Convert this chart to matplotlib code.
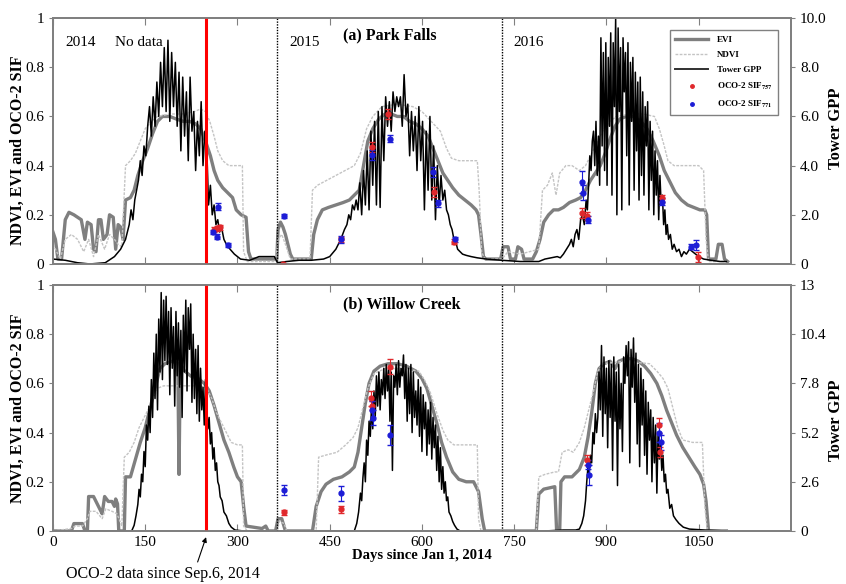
import matplotlib
matplotlib.use("Agg")
import matplotlib.pyplot as plt
from matplotlib.lines import Line2D

plt.rcParams['font.family'] = ['Liberation Serif', 'DejaVu Serif']
plt.rcParams['mathtext.fontset'] = 'stix'

# ---------------- data ----------------
# x axis: days since Jan 1, 2014
x_ticks = [0, 150, 300, 450, 600, 750, 900, 1050]
left_ticks = [0, 0.2, 0.4, 0.6, 0.8, 1]
left_labels = ['0', '0.2', '0.4', '0.6', '0.8', '1']
oco2_start = 249
year_breaks = [365, 730]

# (a) Park Falls
pf_evi_day = [0, 4, 8, 14, 20, 26, 34, 40, 46, 52, 56, 62, 66, 70, 74, 78, 82, 88, 92, 98, 102, 106, 110, 114,
              118, 126, 132, 138, 146, 154, 162, 170, 178, 190, 200, 212, 222, 232, 240, 248, 256, 262, 268, 276,
              284, 292, 298, 306, 314, 318, 322, 360, 364, 366, 370, 374, 378, 382, 386, 390,
              420, 424, 430, 438, 448, 460, 472, 482, 490, 498, 505, 512, 520, 530, 540, 550, 560, 570, 580, 590,
              600, 610, 618, 626, 634, 642, 650, 660, 670, 680, 688, 692, 696, 700, 704, 728, 732, 740, 744, 752,
              756, 762, 766, 780, 786, 792, 798, 806, 814, 822,
              830, 840, 850, 858, 866, 874, 882, 890, 898, 906, 914, 922, 932, 944, 956, 966, 976, 986, 994, 1002,
              1012, 1022, 1032, 1042, 1052, 1060, 1063, 1066, 1078, 1082, 1088, 1092, 1097]
pf_evi = [0.13, 0.10, 0.02, 0.02, 0.18, 0.21, 0.20, 0.19, 0.18, 0.10, 0.17, 0.16, 0.06, 0.05, 0.18, 0.18, 0.10,
          0.12, 0.20, 0.19, 0.06, 0.16, 0.15, 0.10,
          0.26, 0.27, 0.30, 0.36, 0.42, 0.47, 0.53, 0.58, 0.60, 0.60, 0.59, 0.58, 0.58, 0.57, 0.55, 0.50, 0.44,
          0.38, 0.34, 0.31, 0.29, 0.27, 0.22, 0.20, 0.19, 0.05, 0.02, 0.02, 0.02, 0.14, 0.17, 0.15, 0.12, 0.08,
          0.04, 0.02,
          0.02, 0.12, 0.18, 0.22, 0.23, 0.24, 0.25, 0.26, 0.28, 0.30, 0.40, 0.50, 0.55, 0.59, 0.61, 0.61, 0.60,
          0.60, 0.58, 0.57, 0.55, 0.52, 0.47, 0.42, 0.37, 0.34, 0.31, 0.28, 0.26, 0.24, 0.22, 0.20, 0.12, 0.03,
          0.02, 0.02, 0.07, 0.07, 0.02, 0.02, 0.07, 0.06, 0.02, 0.02, 0.05, 0.10, 0.17, 0.20, 0.22, 0.22,
          0.23, 0.25, 0.26, 0.27, 0.30, 0.34, 0.37, 0.40, 0.45, 0.51, 0.56, 0.59, 0.60, 0.60, 0.58, 0.55, 0.50,
          0.44, 0.38, 0.34, 0.29, 0.26, 0.24, 0.23, 0.22, 0.22, 0.20, 0.02, 0.02, 0.08, 0.08, 0.02, 0.01]

pf_ndvi_day = [0, 6, 12, 20, 30, 40, 50, 58, 66, 74, 84, 92, 100, 106, 112, 118, 126, 134, 142, 150, 160, 170,
               190, 210, 230, 240, 248, 255, 262, 268, 276, 286, 300, 308, 310, 316, 362, 366, 372, 378, 386,
               418, 422, 430, 445, 460, 475, 490, 500, 510, 520, 535, 560, 585, 600, 615, 630, 640, 648, 660,
               675, 690, 693, 697, 702, 730, 740, 760, 790, 796, 804, 812, 818, 824, 834,
               844, 856, 866, 876, 886, 896, 906, 916, 940, 960, 978, 986, 994, 1000, 1010, 1030, 1050, 1058,
               1062, 1066, 1095]
pf_ndvi = [0.08, 0.05, 0.02, 0.10, 0.12, 0.10, 0.05, 0.10, 0.03, 0.12, 0.06, 0.12, 0.10, 0.08, 0.07, 0.40,
           0.42, 0.45, 0.50, 0.55, 0.58, 0.60, 0.61, 0.61, 0.62, 0.63, 0.62, 0.58, 0.52, 0.46, 0.42, 0.40, 0.40,
           0.40, 0.05, 0.01, 0.01, 0.10, 0.12, 0.08, 0.02,
           0.02, 0.30, 0.32, 0.34, 0.36, 0.38, 0.40, 0.45, 0.55, 0.60, 0.64, 0.65, 0.64, 0.62, 0.58, 0.54, 0.47,
           0.43, 0.42, 0.42, 0.42, 0.30, 0.05, 0.02, 0.02, 0.05, 0.04, 0.06, 0.30, 0.32, 0.37, 0.28, 0.37, 0.40,
           0.40, 0.38, 0.40, 0.45, 0.50, 0.55, 0.58, 0.60, 0.61, 0.61, 0.60, 0.55, 0.48, 0.42, 0.40, 0.40, 0.40,
           0.38, 0.10, 0.01, 0.01]

pf_gpp_day = [0, 20, 40, 60, 85, 100, 110, 118, 124, 127, 130, 133, 136, 139, 142, 145, 148, 151, 154, 157, 160,
              163, 166, 169, 172, 175, 178, 181, 184, 187, 190, 193, 196, 199, 202, 205, 208, 211, 214, 217, 220,
              223, 226, 229, 232, 235, 238, 241, 244, 247, 250, 253, 256, 259, 262, 265, 268, 271, 274, 278, 282,
              288, 295, 305, 320, 335, 360, 365,
              380, 400, 420, 440, 450, 460, 468, 474, 478, 481, 484, 487, 490, 493, 496, 499, 502, 505, 508, 511,
              514, 517, 520, 523, 526, 529, 532, 535, 538, 541, 544, 547, 550, 553, 556, 559, 562, 565, 568, 571,
              574, 577, 580, 583, 586, 589, 592, 595, 598, 601, 604, 607, 610, 613, 616, 619, 622, 625, 628, 631,
              634, 637, 640, 643, 646, 649, 652, 655, 658, 662, 666, 672, 680, 690, 705, 730, 760, 790, 800, 810,
              820, 825, 830, 835, 840, 843, 846, 849, 852, 855, 858, 861, 864, 867, 869, 871, 873, 875, 877, 879,
              881, 883, 885, 887, 889, 891, 893, 895, 897, 899, 901, 903, 905, 907, 909, 911, 913, 915, 917, 919,
              921, 923, 925, 927, 929, 931, 933, 935, 937, 939, 941, 943, 945, 947, 949, 951, 953, 955, 957, 959,
              961, 963, 965, 967, 969, 971, 973, 975, 977, 979, 981, 983, 985, 987, 989, 991, 993, 995, 997, 999,
              1001, 1004, 1007, 1010, 1014, 1018, 1022, 1026, 1030, 1035, 1040, 1045, 1050, 1058, 1070, 1085, 1095]
pf_gpp = [0.2, 0.15, 0.05, 0.0, 0.05, 0.3, 0.6, 1.0, 1.6, 2.2, 1.8, 2.6, 3.0, 3.4, 4.2, 3.6, 4.8, 4.4, 5.6, 6.4,
          5.2, 6.8, 5.6, 7.4, 6.0, 8.2, 6.4, 8.8, 6.2, 9.1, 5.8, 8.6, 6.4, 8.2, 5.6, 7.8, 4.6, 7.6, 5.2, 7.0, 4.2,
          7.6, 5.4, 6.2, 3.8, 5.8, 4.4, 6.6, 4.0, 5.4, 4.8, 2.4, 3.2, 2.0, 2.4, 1.6, 1.8, 1.3, 1.5, 1.0, 0.8,
          0.6, 0.4, 0.2, 0.15, 0.3, 0.3, 0.05,
          0.1, 0.15, 0.15, 0.2, 0.3, 0.6, 1.0, 1.4, 1.6, 2.0, 1.8, 2.4, 2.2, 2.6, 2.2, 3.3, 2.0, 3.8, 2.4, 4.6,
          2.2, 5.4, 3.2, 5.8, 2.4, 6.2, 2.3, 6.4, 4.2, 6.8, 5.6, 6.6, 5.4, 7.0, 6.2, 6.8, 6.4, 6.8, 5.6, 7.7,
          6.0, 6.5, 4.4, 6.2, 4.6, 6.0, 3.8, 6.4, 4.2, 5.8, 2.2, 5.4, 3.0, 6.0, 2.6, 4.8, 1.8, 4.0, 2.4, 3.6,
          2.6, 3.0, 2.2, 2.0, 1.6, 1.4, 1.0, 0.9, 0.6, 0.5, 0.4, 0.35, 0.3, 0.25, 0.2, 0.15, 0.1, 0.1, 0.2, 0.25,
          0.3, 0.25, 0.4, 0.6, 0.8, 1.0, 0.7, 1.2, 1.4, 1.0, 1.8, 2.0, 1.6, 2.6, 2.2, 3.2, 4.4, 3.8, 5.0, 5.4,
          4.0, 5.8, 3.6, 5.2, 3.2, 9.2, 4.8, 8.6, 3.8, 9.0, 3.2, 8.4, 5.6, 9.4, 2.8, 9.0, 6.4, 10.0, 2.0, 9.6,
          6.2, 8.8, 2.2, 9.2, 7.0, 8.6, 4.4, 9.0, 2.4, 8.2, 5.8, 8.4, 3.0, 7.8, 4.6, 7.4, 2.6, 7.6, 3.6, 7.0,
          2.8, 6.4, 4.8, 6.6, 2.2, 5.8, 3.4, 5.4, 2.0, 4.6, 2.8, 4.2, 1.8, 3.6, 2.4, 2.8, 1.6, 2.2, 1.2, 1.6,
          1.0, 1.2, 0.6, 0.8, 0.5, 0.6, 0.3, 0.5, 0.4, 0.6, 0.5, 0.4, 0.3, 0.2, 0.15, 0.1, 0.1]

pf_sif757_day = [262, 267, 272, 374, 469, 518, 545, 619, 652, 860, 868, 990, 1049]
pf_sif757 = [0.14, 0.145, 0.15, 0.0, 0.10, 0.477, 0.61, 0.294, 0.09, 0.206, 0.195, 0.267, 0.03]
pf_sif757_err = [0.01, 0.01, 0.01, 0.005, 0.01, 0.02, 0.02, 0.02, 0.01, 0.02, 0.015, 0.015, 0.02]
pf_sif771_day = [261, 266, 269, 285, 375, 469, 518, 548, 618, 626, 653, 860, 862, 870, 990, 1038, 1046]
pf_sif771 = [0.13, 0.11, 0.233, 0.077, 0.195, 0.10, 0.443, 0.51, 0.375, 0.247, 0.10, 0.335, 0.29, 0.18, 0.253,
             0.07, 0.077]
pf_sif771_err = [0.01, 0.01, 0.015, 0.01, 0.01, 0.015, 0.02, 0.015, 0.02, 0.015, 0.01, 0.045, 0.03, 0.015, 0.015,
                 0.01, 0.02]

pf_gpp_max = 10
pf_gpp_ticks = [0, 2, 4, 6, 8, 10]
pf_gpp_labels = ['0', '2.0', '4.0', '6.0', '8.0', '10.0']

# (b) Willow Creek
wc_evi_day = [0, 30, 34, 48, 52, 56, 58, 66, 72, 76, 80, 84, 90, 96, 100, 102, 105, 107, 116, 118, 126, 134, 142,
              150, 158, 166, 174, 182, 194, 203, 205, 207, 214, 224, 236, 246, 254, 262, 270, 278, 286, 294, 300,
              306, 310, 314, 340, 346, 350, 362, 366, 372, 378,
              422, 428, 436, 444, 456, 470, 482, 490, 496, 502, 508, 514, 522, 532, 545, 560, 575, 590, 600, 608,
              616, 624, 632, 640, 650, 660, 672, 684, 692, 698, 702, 786, 790, 798, 816, 819, 824, 826,
              832, 844, 856, 864, 870, 876, 882, 888, 896, 906, 914, 920, 930, 942, 952, 962, 972, 982, 990, 998,
              1006, 1014, 1024, 1034, 1044, 1052, 1058, 1062, 1066, 1095]
wc_evi = [0.0, 0.0, 0.03, 0.03, 0.0, 0.0, 0.14, 0.14, 0.11, 0.09, 0.07, 0.14, 0.12, 0.12, 0.10, 0.13, 0.11, 0.0,
          0.0, 0.22, 0.22, 0.29, 0.36, 0.42, 0.50, 0.58, 0.66, 0.68, 0.69, 0.68, 0.23, 0.68, 0.65, 0.63, 0.62,
          0.60, 0.57, 0.51, 0.44, 0.37, 0.32, 0.26, 0.22, 0.20, 0.10, 0.02, 0.01, 0.02, 0.0, 0.0, 0.05, 0.05, 0.0,
          0.0, 0.10, 0.16, 0.19, 0.21, 0.22, 0.24, 0.26, 0.32, 0.42, 0.52, 0.60, 0.65, 0.67, 0.68, 0.68, 0.67,
          0.65, 0.62, 0.58, 0.51, 0.44, 0.36, 0.30, 0.24, 0.21, 0.20, 0.20, 0.16, 0.05, 0.0, 0.0, 0.15, 0.17,
          0.18, 0.0, 0.0, 0.20,
          0.22, 0.22, 0.25, 0.30, 0.38, 0.48, 0.60, 0.66, 0.68, 0.69, 0.66, 0.69, 0.70, 0.70, 0.69, 0.67, 0.64,
          0.60, 0.55, 0.49, 0.44, 0.39, 0.34, 0.30, 0.26, 0.23, 0.19, 0.12, 0.0, 0.0]

wc_ndvi_day = [0, 30, 36, 48, 56, 60, 70, 80, 86, 96, 104, 112, 116, 124, 132, 140, 150, 160, 170, 180, 200, 220,
               240, 250, 258, 266, 274, 282, 290, 300, 308, 310, 316, 365, 368, 376, 380,
               428, 432, 446, 462, 476, 488, 496, 504, 512, 522, 540, 570, 595, 605, 614, 624, 634, 642, 652, 670,
               690, 692, 696, 786, 790, 800, 816, 822, 828, 838,
               846, 856, 864, 872, 880, 886, 894, 930, 970, 982, 992, 1000, 1008, 1016, 1024, 1040, 1056, 1060,
               1064, 1095]
wc_ndvi = [0.0, 0.01, 0.02, 0.02, 0.05, 0.08, 0.08, 0.05, 0.09, 0.08, 0.07, 0.02, 0.30, 0.32, 0.36, 0.42, 0.47,
           0.52, 0.58, 0.59, 0.59, 0.59, 0.59, 0.58, 0.54, 0.48, 0.44, 0.40, 0.36, 0.35, 0.35, 0.02, 0.0, 0.0,
           0.04, 0.03, 0.0,
           0.0, 0.30, 0.31, 0.32, 0.35, 0.38, 0.42, 0.50, 0.58, 0.64, 0.66, 0.66, 0.65, 0.61, 0.56, 0.48, 0.41,
           0.37, 0.35, 0.35, 0.35, 0.05, 0.0, 0.0, 0.22, 0.23, 0.24, 0.24, 0.32, 0.33,
           0.32, 0.36, 0.42, 0.50, 0.58, 0.65, 0.68, 0.69, 0.68, 0.65, 0.62, 0.58, 0.50, 0.42, 0.37, 0.36, 0.36,
           0.10, 0.0, 0.0]

wc_gpp_day = [0, 100, 128, 132, 135, 138, 140, 142, 144, 146, 148, 150, 152, 154, 156, 158, 160, 162, 164, 166,
              168, 170, 172, 174, 176, 178, 180, 182, 184, 186, 188, 190, 192, 194, 196, 198, 200, 202, 204, 206,
              208, 210, 212, 214, 216, 218, 220, 222, 224, 226, 228, 230, 232, 234, 236, 238, 240, 242, 244, 246,
              248, 250, 252, 254, 256, 258, 260, 262, 264, 266, 268, 270, 272, 275, 278, 282, 286, 290, 296, 310,
              365, 490, 494, 497, 500, 502, 504, 506, 508, 510, 512, 514, 516, 518, 520, 522, 524, 526, 528, 530,
              532, 534, 536, 538, 540, 542, 544, 546, 548, 550, 552, 554, 556, 558, 560, 562, 564, 566, 568, 570,
              572, 574, 576, 578, 580, 582, 584, 586, 588, 590, 592, 594, 596, 598, 600, 602, 604, 606, 608, 610,
              612, 614, 616, 618, 620, 622, 624, 626, 628, 630, 632, 634, 636, 638, 640, 642, 644, 647, 650, 653,
              657, 662, 730, 800, 830, 850, 856, 860, 863, 866, 868, 870, 872, 874, 876, 878, 880, 882, 884, 886,
              888, 890, 892, 894, 896, 898, 900, 902, 904, 906, 908, 910, 912, 914, 916, 918, 920, 922, 924, 926,
              928, 930, 932, 934, 936, 938, 940, 942, 944, 946, 948, 950, 952, 954, 956, 958, 960, 962, 964, 966,
              968, 970, 972, 974, 976, 978, 980, 982, 984, 986, 988, 990, 992, 994, 996, 998, 1000, 1003, 1006,
              1009, 1013, 1018, 1025, 1035, 1060, 1095]
wc_gpp = [0.0, 0.0, 0.0, 0.3, 0.8, 1.4, 2.2, 1.8, 3.0, 2.6, 4.2, 3.4, 5.6, 4.8, 6.6, 5.2, 8.0, 6.0, 9.4, 7.0,
          10.4, 6.4, 11.2, 8.4, 12.6, 8.0, 12.2, 9.0, 12.4, 8.8, 11.6, 7.2, 11.8, 8.6, 10.8, 6.6, 11.6, 8.2, 11.0,
          7.6, 10.6, 6.0, 11.4, 8.4, 12.2, 7.4, 11.8, 9.6, 12.0, 6.8, 10.4, 7.0, 9.6, 6.2, 9.8, 5.8, 8.6, 6.4, 7.6,
          5.6, 8.0, 6.6, 5.4, 6.0, 4.6, 5.2, 3.8, 4.4, 3.2, 3.6, 2.6, 2.4, 1.8, 1.6, 1.0, 0.8, 0.4, 0.2, 0.05, 0.0,
          0.0, 0.0, 0.4, 1.0, 2.0, 1.6, 2.8, 3.6, 2.6, 4.8, 4.0, 5.8, 5.0, 6.6, 5.4, 7.4, 6.0, 8.2, 6.6, 8.4,
          6.4, 8.0, 7.2, 8.6, 7.0, 8.8, 7.4, 8.6, 5.8, 8.4, 3.2, 8.2, 7.6, 8.8, 7.2, 9.0, 7.6, 8.6, 8.2, 9.3,
          7.0, 8.8, 5.8, 8.6, 6.2, 8.8, 5.2, 8.4, 6.0, 7.4, 5.6, 8.0, 5.0, 7.6, 4.2, 7.2, 5.4, 6.8, 4.0, 6.4,
          4.6, 6.8, 3.8, 6.0, 4.4, 5.6, 3.2, 5.0, 2.6, 4.4, 2.2, 3.4, 2.0, 2.6, 1.6, 1.8, 1.0, 0.8, 0.5, 0.3,
          0.1, 0.0, 0.0, 0.0, 0.05, 0.05, 0.1, 0.4, 0.8, 1.6, 2.6, 3.4, 3.0, 4.0, 3.6, 5.2, 4.6, 6.2, 5.2, 6.0,
          8.4, 6.4, 9.8, 5.0, 9.2, 6.2, 8.6, 4.4, 9.0, 6.0, 8.8, 3.2, 9.2, 5.8, 8.4, 2.4, 8.8, 5.4, 7.8, 4.2,
          9.2, 7.8, 9.8, 8.2, 10.0, 3.6, 9.6, 7.6, 10.2, 6.8, 9.4, 4.6, 8.8, 3.4, 8.6, 5.6, 8.0, 4.0, 7.4, 3.0,
          6.8, 4.8, 6.4, 2.6, 6.0, 3.6, 5.6, 2.0, 5.2, 3.8, 4.6, 3.2, 4.0, 2.6, 3.0, 2.0, 2.2, 1.2, 1.4,
          0.8, 0.6, 0.4, 0.2, 0.1, 0.05, 0.0]

wc_sif757_day = [376, 469, 517, 519, 548, 869, 986, 987]
wc_sif757 = [0.076, 0.088, 0.54, 0.51, 0.668, 0.29, 0.43, 0.32]
wc_sif757_err = [0.01, 0.015, 0.03, 0.02, 0.03, 0.02, 0.03, 0.02]
wc_sif771_day = [376, 469, 518, 520, 548, 870, 871, 986, 988]
wc_sif771 = [0.167, 0.153, 0.49, 0.46, 0.39, 0.27, 0.228, 0.40, 0.36]
wc_sif771_err = [0.02, 0.03, 0.04, 0.03, 0.04, 0.02, 0.04, 0.04, 0.03]

wc_gpp_max = 13
wc_gpp_ticks = [0, 2.6, 5.2, 7.8, 10.4, 13]
wc_gpp_labels = ['0', '2.6', '5.2', '7.8', '10.4', '13']

# ---------------- styles ----------------
evi_color = '#7f7f7f'
ndvi_color = '#c4c4c4'
red = '#e0282c'
blue = '#1c1cd6'
frame = '#808080'
ndvi_ls = (0, (2, 1))


def draw_panel(ax, evi_d, evi, ndvi_d, ndvi, gpp_d, gpp, gpp_max, gpp_ticks, gpp_labels,
               r_d, r_v, r_e, b_d, b_v, b_e, bottom_labels):
    # left axis: vegetation indices
    ax.plot(evi_d, evi, color=evi_color, lw=2.4)
    ax.plot(ndvi_d, ndvi, color=ndvi_color, lw=1.0, ls=ndvi_ls)
    ax.set_xlim(0, 1200)
    ax.set_ylim(0, 1)
    ax.set_xticks(x_ticks)
    ax.set_yticks(left_ticks)
    ax.set_yticklabels(left_labels)
    ax.tick_params(axis='x', direction='in', top=True, length=5, labelsize=11, colors=frame, labelcolor='black')
    ax.tick_params(axis='y', direction='out', length=3, labelsize=11, colors=frame, labelcolor='black')
    if not bottom_labels:
        ax.set_xticklabels([])

    # right axis: tower GPP
    ax2 = ax.twinx()
    ax2.plot(gpp_d, gpp, color='black', lw=1.1)
    ax2.set_ylim(0, gpp_max)
    ax2.set_yticks(gpp_ticks)
    ax2.set_yticklabels(gpp_labels)
    ax2.tick_params(axis='y', direction='out', length=3, labelsize=11, colors=frame, labelcolor='black')

    # top layer: SIF points and vertical markers
    ax3 = ax.twinx()
    ax3.set_ylim(0, 1)
    ax3.set_yticks([])
    ax3.axvline(oco2_start, color='red', lw=2.2)
    for yb in year_breaks:
        ax3.axvline(yb, color='black', lw=1.0, ls=(0, (1, 1)))
    ax3.errorbar(r_d, r_v, yerr=r_e, fmt='o', ms=3.5, color=red, ecolor=red, elinewidth=0.8, capsize=2.5)
    ax3.errorbar(b_d, b_v, yerr=b_e, fmt='o', ms=3.5, color=blue, ecolor=blue, elinewidth=0.8, capsize=2.5)

    for a in (ax, ax2, ax3):
        for s in a.spines.values():
            s.set_color(frame)
            s.set_linewidth(1.2)
    return ax2, ax3


fig = plt.figure(figsize=(8.46, 5.84), dpi=100)
ax_top = fig.add_axes([0.0626, 0.548, 0.8723, 0.421])
ax_bot = fig.add_axes([0.0626, 0.0908, 0.8723, 0.4212])

top2, top3 = draw_panel(ax_top, pf_evi_day, pf_evi, pf_ndvi_day, pf_ndvi, pf_gpp_day, pf_gpp, pf_gpp_max,
                        pf_gpp_ticks, pf_gpp_labels, pf_sif757_day, pf_sif757, pf_sif757_err,
                        pf_sif771_day, pf_sif771, pf_sif771_err, False)
bot2, bot3 = draw_panel(ax_bot, wc_evi_day, wc_evi, wc_ndvi_day, wc_ndvi, wc_gpp_day, wc_gpp, wc_gpp_max,
                        wc_gpp_ticks, wc_gpp_labels, wc_sif757_day, wc_sif757, wc_sif757_err,
                        wc_sif771_day, wc_sif771, wc_sif771_err, True)

# legend (top panel): dots only for the SIF entries
handles = [Line2D([], [], color=evi_color, lw=2.4),
           Line2D([], [], color=ndvi_color, lw=1.0, ls=ndvi_ls),
           Line2D([], [], color='#303030', lw=1.4),
           Line2D([], [], color=red, ls='none', marker='o', ms=2.5),
           Line2D([], [], color=blue, ls='none', marker='o', ms=2.5)]
labels = ['EVI', 'NDVI', 'Tower GPP', 'OCO-2 SIF$_{\\mathbf{757}}$', 'OCO-2 SIF$_{\\mathbf{771}}$']
leg = top3.legend(handles, labels, loc='upper right', bbox_to_anchor=(0.988, 0.968),
                  prop={'weight': 'bold', 'size': 6.5}, handlelength=3.6, handletextpad=1.0,
                  fancybox=False, edgecolor=frame, framealpha=1, borderpad=0.55, labelspacing=0.75)
leg.get_frame().set_linewidth(1.0)

# panel texts
ax_top.text(20, 0.90, '2014', fontsize=11, va='center')
ax_top.text(101, 0.90, 'No data', fontsize=11, va='center')
ax_top.text(385, 0.90, '2015', fontsize=11, va='center')
ax_top.text(471, 0.93, '(a) Park Falls', fontsize=11.5, fontweight='bold', va='center')
ax_top.text(748, 0.90, '2016', fontsize=11, va='center')
ax_bot.text(471, 0.92, '(b) Willow Creek', fontsize=11.5, fontweight='bold', va='center')

ax_bot.set_xlabel('Days since Jan 1, 2014', fontsize=10.5, fontweight='bold', labelpad=0)

fig.text(0.021, 0.743, 'NDVI, EVI and OCO-2 SIF', rotation=90, fontsize=11.5, fontweight='bold',
         ha='center', va='center')
fig.text(0.021, 0.301, 'NDVI, EVI and OCO-2 SIF', rotation=90, fontsize=11.5, fontweight='bold',
         ha='center', va='center')
fig.text(0.988, 0.781, 'Tower GPP', rotation=90, fontsize=12, fontweight='bold', ha='center', va='center')
fig.text(0.988, 0.281, 'Tower GPP', rotation=90, fontsize=12, fontweight='bold', ha='center', va='center')

# arrow marking the start of OCO-2 data
ax_bot.annotate('OCO-2 data since Sep.6, 2014', xy=(oco2_start, -0.025), xycoords='data',
                xytext=(0.193, 0.017), textcoords='figure fraction', fontsize=11.5, ha='center', va='center',
                annotation_clip=False,
                arrowprops=dict(arrowstyle='-|>', color='black', lw=0.8, mutation_scale=7,
                                relpos=(0.67, 1.0), shrinkA=1, shrinkB=0))

fig.savefig('out.png', dpi=100)
